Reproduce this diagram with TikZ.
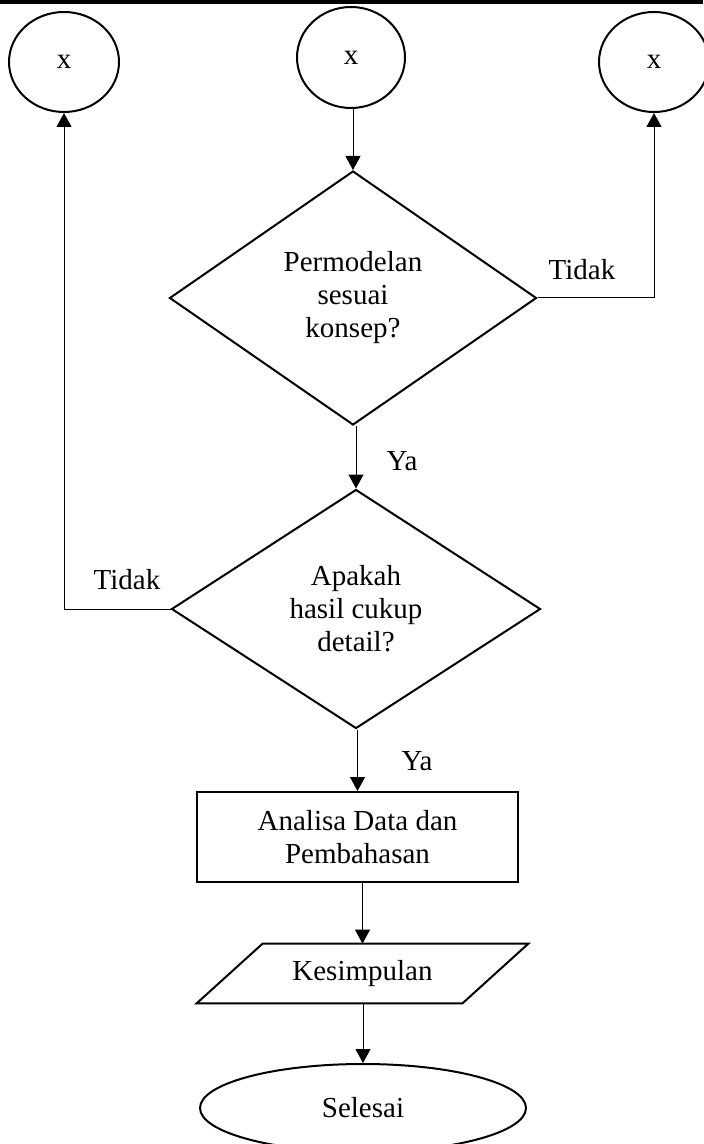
\documentclass[tikz,border=0pt]{standalone}
\usepackage{fontspec}
\setmainfont{Liberation Serif}
\usetikzlibrary{shapes.geometric,arrows.meta}
\begin{document}
\begin{tikzpicture}[x=0.5pt,y=-0.5pt,
  every node/.style={font=\fontsize{14.5}{16.5}\selectfont, align=center, inner sep=0pt},
  shapeline/.style={draw, line width=1pt},
  conn/.style={line width=0.5pt, -{Triangle[length=7pt,width=7.5pt]}},
  lbl/.style={anchor=center}]
\useasboundingbox (0,0) rectangle (703,1144);
\fill (0,0) rectangle (703,4);
% connectors in circles
\node[shapeline, ellipse, minimum width=55pt, minimum height=50pt] (c1) at (64,62) {x};
\node[shapeline, ellipse, minimum width=54pt, minimum height=50.5pt] (c2) at (351,57.5) {x};
\node[shapeline, ellipse, minimum width=55pt, minimum height=50pt] (c3) at (654,62) {x};
% decisions
\node[shapeline, diamond, minimum width=183.5pt, minimum height=127pt] (d1) at (353,298) {Permodelan\\sesuai\\konsep?};
\node[shapeline, diamond, minimum width=184.5pt, minimum height=119.5pt] (d2) at (356,609) {Apakah\\hasil cukup\\detail?};
% process
\node[shapeline, rectangle, minimum width=160.5pt, minimum height=45pt] (r) at (357.5,837) {Analisa Data dan\\Pembahasan};
% output (parallelogram)
\node[minimum width=99.5pt, minimum height=29.5pt] (p) at (362.5,973.5) {Kesimpulan};
\draw[line width=1pt] ([xshift=-33pt]p.south west) -- (p.south east) -- ([xshift=33pt]p.north east) -- (p.north west) -- cycle;
% terminator
\node[shapeline, ellipse, minimum width=163pt, minimum height=44pt] (e) at (363,1108) {Selesai};
% connectors
\draw[conn] (c2.south -| d1.north) -- (d1.north);
\draw[conn] (d1.south -| d2.north) -- (d2.north);
\draw[conn] (d2.south -| r.north) -- (r.north);
\draw[conn] (r.south -| p.north) -- (p.north);
\draw[conn] (p.south -| e.north) -- (e.north);
\draw[conn] (d1.east) -| (c3.south);
\draw[conn] (d2.west) -| (c1.south);
% labels
\node[lbl] (ya1) at (402,461) {Ya};
\node[lbl] (ya2) at (417,761) {Ya};
\node[lbl] (t1) at (582,270) {Tidak};
\node[lbl] (t2) at (127,580) {Tidak};
\end{tikzpicture}
\end{document}
